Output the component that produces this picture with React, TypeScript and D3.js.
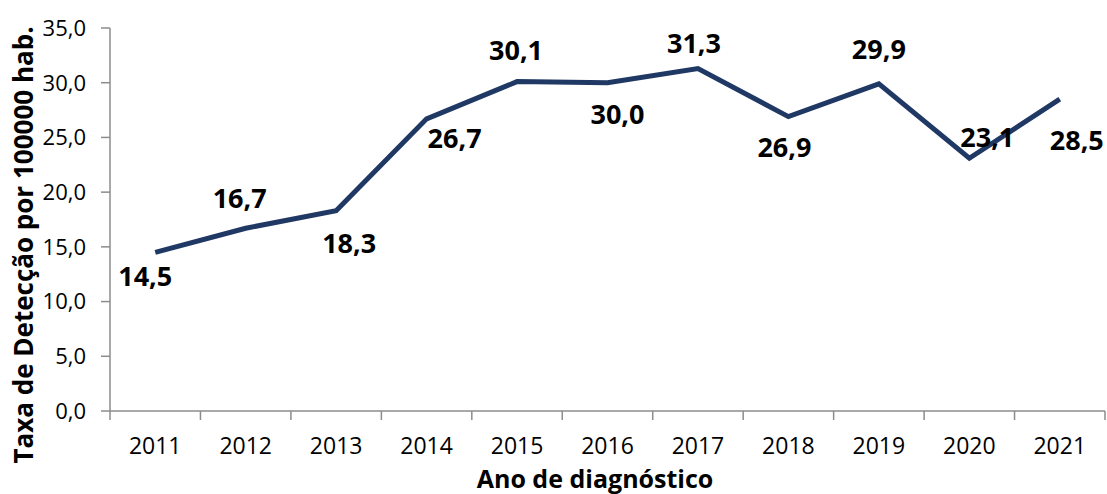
import React from 'react';
import { scaleBand, scaleLinear, line } from 'd3';

const years = ['2011', '2012', '2013', '2014', '2015', '2016', '2017', '2018', '2019', '2020', '2021'];
const rates = [14.5, 16.7, 18.3, 26.7, 30.1, 30.0, 31.3, 26.9, 29.9, 23.1, 28.5];
const yTicks = [0, 5, 10, 15, 20, 25, 30, 35];
// deslocamento de cada rótulo em relação ao ponto (px)
const labelDx = [-10, -6, 13, 28, -1, 10, -4, -4, 0, 18, 17];
const labelDy = [24, -30, 33, 19, -31, 32, -25, 31, -35, -21, 41];

const W = 1107;
const H = 494;
const M = { left: 110, right: 2, top: 28, bottom: 83 };
const LINE = '#1f3864';
const AXIS = '#8c8c8c';
const FONT = '"Open Sans", sans-serif';

const fmt = (v: number) => v.toFixed(1).replace('.', ',');

export default function App() {
  const x = scaleBand().domain(years).range([M.left, W - M.right]);
  const y = scaleLinear().domain([0, 35]).range([H - M.bottom, M.top]);
  const cx = (d: string) => (x(d) ?? 0) + x.bandwidth() / 2;
  const path = line<number>()
    .x((_, i) => cx(years[i]))
    .y((d) => y(d))(rates);
  const y0 = y(0);

  return (
    <div style={{ position: 'fixed', left: 0, top: 0 }}>
      <svg width={W} height={H} style={{ display: 'block', background: '#fff' }} fontFamily={FONT}>
        {/* eixo y */}
        <line x1={M.left} x2={M.left} y1={y(35)} y2={y0} stroke={AXIS} strokeWidth={1.5} />
        {yTicks.map((t) => (
          <g key={t}>
            <line x1={M.left - 9} x2={M.left} y1={y(t)} y2={y(t)} stroke={AXIS} strokeWidth={1.5} />
            <text x={M.left - 24} y={y(t)} dy="0.36em" textAnchor="end" fontSize={22}>
              {fmt(t)}
            </text>
          </g>
        ))}
        {/* eixo x */}
        <line x1={M.left} x2={W - M.right} y1={y0} y2={y0} stroke={AXIS} strokeWidth={1.5} />
        {years.map((d) => (
          <g key={d}>
            <line x1={x(d)! + x.bandwidth()} x2={x(d)! + x.bandwidth()} y1={y0} y2={y0 + 9} stroke={AXIS} strokeWidth={1.5} />
            <text x={cx(d)} y={y0 + 43} textAnchor="middle" fontSize={23}>
              {d}
            </text>
          </g>
        ))}
        <line x1={M.left} x2={M.left} y1={y0} y2={y0 + 9} stroke={AXIS} strokeWidth={1.5} />

        <path d={path ?? ''} fill="none" stroke={LINE} strokeWidth={5} strokeLinejoin="miter" />

        {rates.map((v, i) => (
          <text
            key={years[i]}
            x={cx(years[i]) + labelDx[i]}
            y={y(v) + labelDy[i]}
            dy="0.36em"
            textAnchor="middle"
            fontSize={27}
            fontWeight="bold"
          >
            {fmt(v)}
          </text>
        ))}

        <text x={595} y={488} textAnchor="middle" fontSize={25} fontWeight="bold">
          Ano de diagnóstico
        </text>
        <text
          transform={`translate(33, 245) rotate(-90)`}
          textAnchor="middle"
          fontSize={26}
          fontWeight="bold"
        >
          Taxa de Detecção por 100000 hab.
        </text>
      </svg>
    </div>
  );
}
